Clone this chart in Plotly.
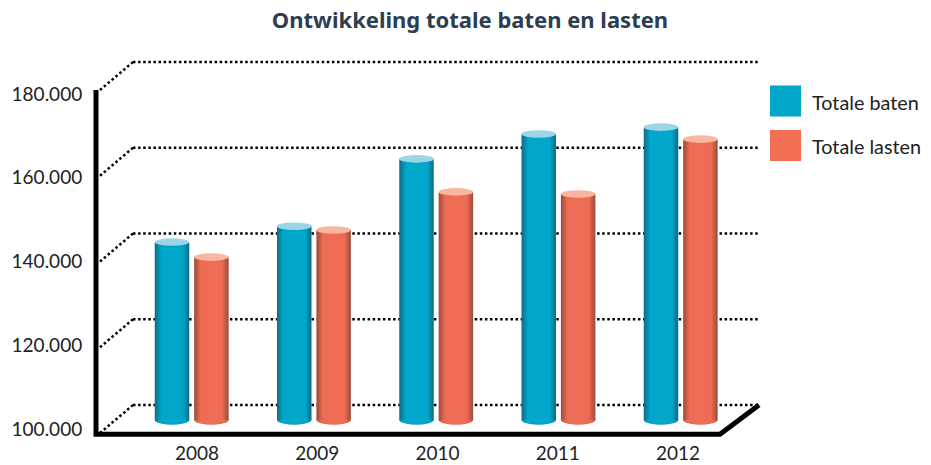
import plotly.graph_objects as go

years = [2008, 2009, 2010, 2011, 2012]
totale_baten = [141500, 145200, 160900, 166700, 168300]
totale_lasten = [138000, 144300, 153200, 152700, 165500]
y_ticks = [100000, 120000, 140000, 160000, 180000]

W, H = 931, 465
L, R, T, B = 90, 770, 50, 440
FONT = "Lato"
TEXT = "#222222"

# main scales: 122.25 px per year, 85.75 px per 20.000, base 100.000 at pixel 420
px_per_year = 122.25
px_per_val = 85.75 / 20000
x0_px, y0_px = 191.7, 420.0
def X(px): return 2008 + (px - x0_px) / px_per_year
def Y(px): return 100000 + (y0_px - px) / px_per_val
DX = 1 / px_per_year
DY = 1 / px_per_val

def mix(a, b, t):
    return "#" + "".join(f"{round(a[i] + (b[i] - a[i]) * t):02x}" for i in range(3))

series = [
    ("Totale baten", totale_baten, -19.7, (14, 112, 138), (0, 167, 202), "#9bd5e8", "#00a7cb"),
    ("Totale lasten", totale_lasten, 19.7, (160, 78, 62), (238, 108, 84), "#f9b7a2", "#f26e54"),
]
bar_w = 34.5
layers = 7

fig = go.Figure()
shapes = []

# dotted grid: back wall plus oblique floor connectors
for v in y_ticks:
    yb = v + 15 * DY
    yf = v - 13 * DY
    dot = dict(color="#000000", width=2.5, dash="2.5px,2.6px")
    shapes.append(dict(type="line", xref="x", yref="y", x0=X(133), x1=X(760), y0=yb, y1=yb, line=dot, layer="below"))
    shapes.append(dict(type="line", xref="x", yref="y", x0=X(100), x1=X(133), y0=yf, y1=yb, line=dot, layer="below"))

for name, vals, off, dark, mid, top, swatch in series:
    for k in range(layers):
        w = bar_w - 2 * k
        col = mix(dark, mid, k / (layers - 1))
        fig.add_trace(go.Bar(
            x=years, y=[v - 100000 for v in vals], base=100000,
            width=w * DX, offset=(off - w / 2) * DX,
            marker=dict(color=col, line=dict(width=0)),
            name=name, showlegend=False, hovertemplate="%{x}: %{y}<extra>" + name + "</extra>",
        ))
    for yr, v in zip(years, vals):
        cx = yr + off * DX
        # rounded bottom, layered below the bars
        for k, (w, c) in enumerate([(bar_w, mix(dark, mid, 0.55)), (bar_w - 5, mix(dark, mid, 1))]):
            shapes.append(dict(type="circle", xref="x", yref="y", layer="below",
                               x0=cx - w / 2 * DX, x1=cx + w / 2 * DX,
                               y0=100000 - 4.5 * DY, y1=100000 + 4.5 * DY,
                               fillcolor=c, line=dict(width=0)))
        # lit top ellipse
        shapes.append(dict(type="circle", xref="x", yref="y", layer="above",
                           x0=cx - bar_w / 2 * DX, x1=cx + bar_w / 2 * DX,
                           y0=v - 3.8 * DY, y1=v + 3.8 * DY,
                           fillcolor=top, line=dict(width=0)))

# heavy axis frame
frame = dict(color="#000000", width=5)
path = f"M {X(96)} {Y(90)} L {X(96)} {Y(434.3)} L {X(720)} {Y(434.3)} L {X(759)} {Y(405)}"
shapes.append(dict(type="path", xref="x", yref="y", path=path, line=frame, layer="above"))

# legend
annotations = []
for (name, vals, off, dark, mid, top, swatch), ypx in zip(series, [101, 145.5]):
    shapes.append(dict(type="rect", xref="paper", yref="paper",
                       x0=(770 - L) / (R - L), x1=(801 - L) / (R - L),
                       y0=(B - (ypx - 15.5)) / (B - T), y1=(B - (ypx + 15.5)) / (B - T),
                       fillcolor=swatch, line=dict(width=0)))
    annotations.append(dict(text=name, xref="paper", yref="paper", showarrow=False,
                            x=(810 - L) / (R - L), y=(B - (ypx + 0.5)) / (B - T),
                            xanchor="left", yanchor="middle",
                            font=dict(family=FONT, size=19.8, color=TEXT)))

# label-only axes (labels are spaced slightly differently from the marks)
fig.add_trace(go.Scatter(x=years, y=y_ticks, xaxis="x2", yaxis="y2", mode="markers",
                         marker=dict(opacity=0), showlegend=False, hoverinfo="skip"))

lbl_px_per_year = 120.25
lbl_px_per_val = 83.75 / 20000
fig.update_layout(
    width=W, height=H, autosize=False,
    paper_bgcolor="white", plot_bgcolor="rgba(0,0,0,0)",
    barmode="overlay", separators=",.",
    margin=dict(l=L, r=W - R, t=T, b=H - B, autoexpand=False),
    title=dict(text="<b>Ontwikkeling totale baten en lasten</b>", x=470 / W, xanchor="center",
               y=1 - 20 / H, yanchor="middle", font=dict(family="Noto Sans", size=22, color="#2c3e50")),
    xaxis=dict(range=[X(L), X(R)], showgrid=False, zeroline=False, showline=False,
               showticklabels=False, ticks=""),
    yaxis=dict(range=[Y(B), Y(T)], showgrid=False, zeroline=False, showline=False,
               showticklabels=False, ticks=""),
    xaxis2=dict(overlaying="x", anchor="y2", side="bottom",
                range=[2008 + (L - 197) / lbl_px_per_year, 2008 + (R - 197) / lbl_px_per_year],
                tickmode="array", tickvals=years, ticktext=[str(y) for y in years],
                showgrid=False, zeroline=False, showline=False, ticks="",
                tickfont=dict(family=FONT, size=19, color=TEXT)),
    yaxis2=dict(overlaying="y", anchor="x2", side="left",
                range=[100000 + (429 - B) / lbl_px_per_val, 100000 + (429 - T) / lbl_px_per_val],
                tickmode="array", tickvals=y_ticks, tickformat=",d",
                showgrid=False, zeroline=False, showline=False, ticks="outside", ticklen=3,
                tickcolor="rgba(0,0,0,0)", tickfont=dict(family=FONT, size=19, color=TEXT)),
    shapes=shapes, annotations=annotations,
)
fig.write_html("out.html", post_script="document.body.style.margin='0';",
               config={"displayModeBar": False})
